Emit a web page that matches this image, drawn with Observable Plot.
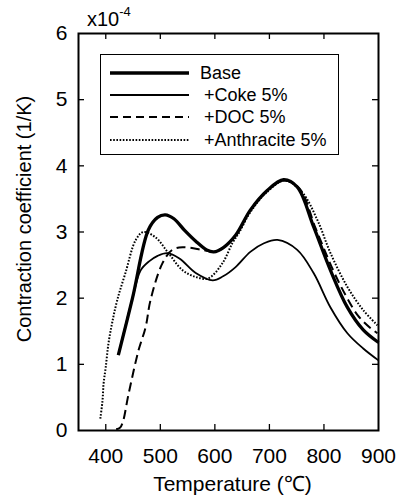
<!DOCTYPE html>
<html>
<head>
<meta charset="utf-8">
<script src="https://cdn.jsdelivr.net/npm/d3@7"></script>
<script src="https://cdn.jsdelivr.net/npm/@observablehq/plot@0.6"></script>
<style>
  body { margin: 0; background: #fff; }
  #wrap { position: relative; width: 399px; height: 503px; font-family: "Liberation Sans", Arial, sans-serif; color: #000; }
  #exp { position: absolute; left: 87px; top: 7px; font-size: 20px; line-height: 1; }
  #exp sup { font-size: 13px; position: relative; top: -2px; }
  #legend { position: absolute; left: 100px; top: 54px; width: 237px; height: 99px; border: 1.5px solid #000; background: #fff; }
  #legend svg { position: absolute; left: 0; top: 0; }
  #legend .row { position: absolute; font-size: 18px; line-height: 1; white-space: nowrap; }
</style>
</head>
<body>
<div id="wrap">
  <div id="chart"></div>
  <div id="exp">x10<sup>-4</sup></div>
  <div id="legend"></div>
</div>
<script>
// Temperature (°C) and contraction coefficient (x10^-4 1/K)
const baseT = [423, 449, 478, 495, 509, 525, 545, 565, 585, 598, 615, 638, 665, 695, 726, 751, 781, 812, 843, 872, 900];
const baseV = [1.14, 2.0, 3.03, 3.22, 3.26, 3.2, 3.02, 2.86, 2.73, 2.70, 2.76, 2.95, 3.33, 3.62, 3.79, 3.68, 3.08, 2.42, 1.86, 1.52, 1.33];

const cokeT = [423, 449, 464, 480, 495, 513, 535, 565, 596, 615, 638, 665, 690, 715, 751, 781, 812, 843, 872, 900];
const cokeV = [1.14, 2.0, 2.42, 2.56, 2.64, 2.68, 2.6, 2.38, 2.27, 2.33, 2.47, 2.70, 2.83, 2.88, 2.73, 2.38, 1.86, 1.47, 1.24, 1.06];

const docT = [419, 426, 431, 442, 460, 473, 482, 504, 522, 541, 577, 598, 615, 638, 665, 695, 726, 755, 785, 817, 840, 862, 885, 898];
const docV = [0.02, 0.04, 0.12, 0.56, 1.21, 1.56, 1.97, 2.53, 2.73, 2.77, 2.73, 2.70, 2.76, 2.95, 3.33, 3.62, 3.78, 3.66, 3.05, 2.42, 2.04, 1.74, 1.55, 1.47];

const anthT = [390, 394, 396, 400, 405, 412, 421, 436, 455, 469, 491, 515, 541, 565, 588, 614, 632, 645, 665, 695, 728, 760, 788, 812, 843, 872, 898];
const anthV = [0.18, 0.45, 0.71, 0.96, 1.32, 1.64, 1.97, 2.38, 2.88, 3.0, 2.92, 2.68, 2.42, 2.32, 2.3, 2.53, 2.83, 3.0, 3.3, 3.6, 3.78, 3.6, 3.18, 2.68, 2.17, 1.82, 1.59];

const seriesNames = ["Base", "+Coke 5%", "+DOC 5%", "+Anthracite 5%"];
const xTicks = [400, 500, 600, 700, 800, 900];
const yTicks = [0, 1, 2, 3, 4, 5, 6];
const xLabel = "Temperature (℃)";
const yLabel = "Contraction coefficient (1/K)";

const styles = [
  {strokeWidth: 3.3, strokeDasharray: null},
  {strokeWidth: 1.8, strokeDasharray: null},
  {strokeWidth: 2, strokeDasharray: "9,5"},
  {strokeWidth: 2, strokeDasharray: "1.6,1.6"}
];

const toRows = (T, V) => T.map((t, i) => ({t, v: V[i]}));
const sets = [toRows(baseT, baseV), toRows(cokeT, cokeV), toRows(docT, docV), toRows(anthT, anthV)];

const W = 399, H = 503, mT = 33, mR = 21, mB = 73, mL = 78;
const frameH = H - mT - mB, frameW = W - mL - mR;
const tk = 6;

const lineMarks = sets.map((rows, i) => Plot.line(rows, {
  x: "t", y: "v", curve: "catmull-rom", stroke: "#000",
  strokeWidth: styles[i].strokeWidth,
  strokeDasharray: styles[i].strokeDasharray,
  strokeLinecap: "butt", strokeLinejoin: "round"
}));

const chart = Plot.plot({
  width: W, height: H,
  marginTop: mT, marginRight: mR, marginBottom: mB, marginLeft: mL,
  style: {fontFamily: '"Liberation Sans", Arial, sans-serif', fontSize: "21px", color: "#000", background: "#fff"},
  x: {domain: [350, 900], axis: null},
  y: {domain: [0, 6], axis: null},
  marks: [
    Plot.text(xTicks, {x: d => d, frameAnchor: "bottom", lineAnchor: "middle", dy: 26, fontSize: 21, text: d => d3.format("d")(d)}),
    Plot.text(yTicks, {y: d => d, frameAnchor: "left", textAnchor: "end", lineAnchor: "middle", dx: -11, fontSize: 21, text: d => d3.format("d")(d)}),
    Plot.tickX(xTicks.slice(0, -1), {x: d => d, insetTop: frameH - tk, stroke: "#000", strokeWidth: 1.3}),
    Plot.tickX(xTicks.slice(0, -1), {x: d => d, insetBottom: frameH - tk, stroke: "#000", strokeWidth: 1.3}),
    Plot.tickY(yTicks.slice(1, -1), {y: d => d, insetRight: frameW - tk, stroke: "#000", strokeWidth: 1.3}),
    Plot.tickY(yTicks.slice(1, -1), {y: d => d, insetLeft: frameW - tk, stroke: "#000", strokeWidth: 1.3}),
    ...lineMarks,
    Plot.frame({stroke: "#000", strokeWidth: 2}),
    Plot.text([xLabel], {frameAnchor: "bottom", textAnchor: "middle", dx: 4, dy: 60, fontSize: 21, text: d => d}),
    Plot.text([yLabel], {frameAnchor: "left", textAnchor: "middle", rotate: -90, dx: -54, dy: -13, fontSize: 20, text: d => d})
  ]
});
document.getElementById("chart").appendChild(chart);

// Legend (overlay)
const leg = document.getElementById("legend");
const rowY = [18, 40, 62, 85];
const ns = "http://www.w3.org/2000/svg";
const svg = document.createElementNS(ns, "svg");
svg.setAttribute("width", 237); svg.setAttribute("height", 99);
seriesNames.forEach((name, i) => {
  const ln = document.createElementNS(ns, "line");
  ln.setAttribute("x1", 9); ln.setAttribute("x2", 88);
  ln.setAttribute("y1", rowY[i]); ln.setAttribute("y2", rowY[i]);
  ln.setAttribute("stroke", "#000");
  ln.setAttribute("stroke-width", styles[i].strokeWidth);
  if (styles[i].strokeDasharray) ln.setAttribute("stroke-dasharray", i === 2 ? "8,5" : styles[i].strokeDasharray);
  svg.appendChild(ln);
  const t = document.createElement("div");
  t.className = "row";
  t.textContent = name;
  t.style.left = (i === 0 ? 99 : 103) + "px";
  t.style.top = (rowY[i] - 9) + "px";
  leg.appendChild(t);
});
leg.appendChild(svg);
</script>
</body>
</html>
